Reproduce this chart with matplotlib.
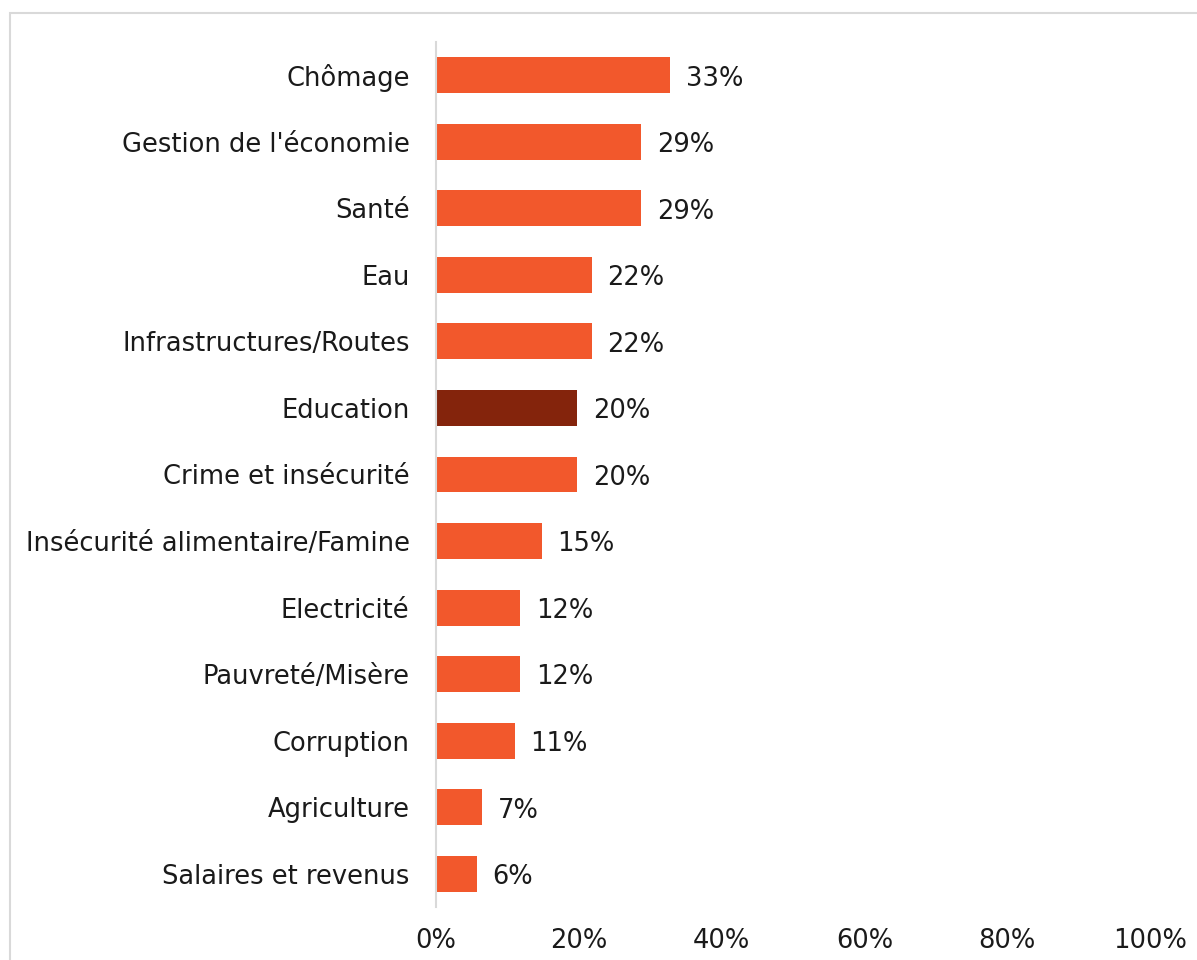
import matplotlib.pyplot as plt
from matplotlib.patches import Rectangle

categories = ["Chômage", "Gestion de l'économie", "Santé", "Eau",
              "Infrastructures/Routes", "Education", "Crime et insécurité",
              "Insécurité alimentaire/Famine", "Electricité", "Pauvreté/Misère",
              "Corruption", "Agriculture", "Salaires et revenus"]
values = [32.8, 28.7, 28.7, 21.8, 21.8, 19.8, 19.8, 14.8, 11.8, 11.8, 11.0, 6.5, 5.7]
labels = ["33%", "29%", "29%", "22%", "22%", "20%", "20%", "15%", "12%", "12%",
          "11%", "7%", "6%"]
xticks = [0, 20, 40, 60, 80, 100]
xticklabels = ["0%", "20%", "40%", "60%", "80%", "100%"]

plt.rcParams['font.family'] = ['DejaVu Sans']
fs = 18.5

fig = plt.figure(figsize=(11.97, 9.6), dpi=100)
# light frame around the chart
fig.patches.append(Rectangle((10 / 1197, -0.01), 1.0, 1 - 13 / 960 + 0.01,
                             transform=fig.transFigure, fill=False,
                             edgecolor="#d9d9d9", linewidth=1.5))

ax = fig.add_axes([436 / 1197, 1 - 907 / 960, (1150 - 436) / 1197, 865 / 960])
colors = ["#84240c" if c == "Education" else "#f2582c" for c in categories]
y = list(range(len(categories)))
ax.barh(y, values, height=0.54, color=colors)
ax.set_ylim(len(categories) - 0.5, -0.5)
ax.set_xlim(0, 100)

for yi, v, lab in zip(y, values, labels):
    ax.text(v + 2.2, yi + 0.05, lab, va="center", ha="left", fontsize=fs, color="#1a1a1a")

ax.set_yticks(y)
ax.set_yticklabels(categories, fontsize=fs, color="#1a1a1a")
ax.set_xticks(xticks)
ax.set_xticklabels(xticklabels, fontsize=fs, color="#1a1a1a")
ax.tick_params(axis="y", length=0, pad=19)
ax.tick_params(axis="x", length=0, pad=15)
for s in ["top", "right", "bottom"]:
    ax.spines[s].set_visible(False)
ax.spines["left"].set_color("#d9d9d9")
ax.spines["left"].set_linewidth(1.5)

fig.savefig("out.png", dpi=100)
